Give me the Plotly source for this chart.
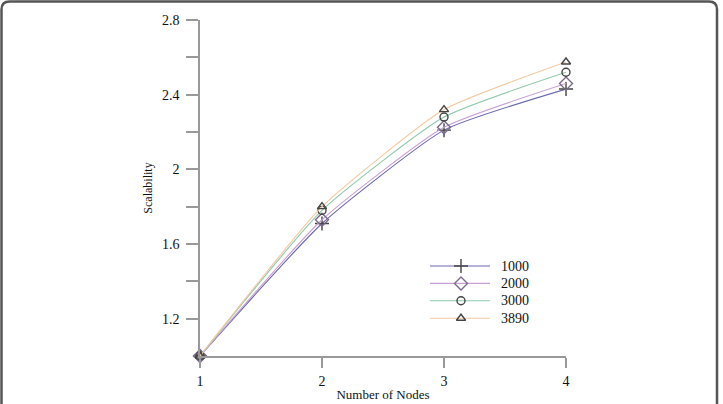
import plotly.graph_objects as go

nodes = [1, 2, 3, 4]
s1000 = [1.0, 1.71, 2.21, 2.43]
s2000 = [1.0, 1.73, 2.225, 2.46]
s3000 = [1.0, 1.78, 2.28, 2.52]
s3890 = [1.0, 1.80, 2.32, 2.575]
names = ["1000", "2000", "3000", "3890"]
line_colors = ["#6b68b0", "#c9a0d6", "#8fc9aa", "#f2c9a0"]
symbols = ["cross-thin-open", "diamond-open", "circle-open", "triangle-up-open"]
marker_colors = ["#444444", "#7a6a88", "#444444", "#444444"]
marker_sizes = [10, 10, 8, 8]
series = [s1000, s2000, s3000, s3890]

ytickvals = [1.2, 1.6, 2.0, 2.4, 2.8]
yticktext = ["1.2", "1.6", "2", "2.4", "2.8"]
yminor = [1.4, 1.8, 2.2, 2.6]

FONT = "Liberation Serif"
TXT = "#111111"

L, R, T, B = 200, 157, 20, 48
W, H = 723, 404
pw, ph = W - L - R, H - T - B

# legend layout (pixel positions within the figure)
LEG_X0, LEG_X1, LEG_MX, LEG_TX = 430, 490, 461, 499
LEG_Y0, LEG_DY = 266, 17.4

fig = go.Figure()
for i, (nm, ys, lc, sym, mc, ms) in enumerate(zip(names, series, line_colors, symbols, marker_colors, marker_sizes)):
    fig.add_trace(go.Scatter(
        x=nodes, y=ys, name=nm, mode="lines+markers", showlegend=False,
        line=dict(color=lc, width=1.1, shape="spline", smoothing=0.5),
        marker=dict(symbol=sym, size=ms, color=mc, line=dict(color=mc, width=1.4)),
        cliponaxis=False,
    ))
    ry_ = LEG_Y0 + i * LEG_DY
    fig.add_trace(go.Scatter(
        x=[LEG_X0, LEG_X1], y=[ry_, ry_], mode="lines", xaxis="x2", yaxis="y2",
        showlegend=False, hoverinfo="skip", line=dict(color=lc, width=1.1)))
    fig.add_trace(go.Scatter(
        x=[LEG_MX], y=[ry_], mode="markers", xaxis="x2", yaxis="y2",
        showlegend=False, hoverinfo="skip",
        marker=dict(symbol=sym, size=ms, color=mc, line=dict(color=mc, width=1.4))))
    fig.add_annotation(x=LEG_TX, y=ry_, xref="x2", yref="y2", text=nm, showarrow=False,
                       xanchor="left", yanchor="middle",
                       font=dict(family=FONT, size=14, color=TXT))

def px(x):
    return (x - L) / pw

def py(y):
    return (H - B - y) / ph

rx, ry = 8 / pw, 8 / ph
x0, x1 = px(1.5), px(717)
yt, yb = py(1.5), py(420)
path = (f"M {x0},{yb} L {x0},{yt - ry} Q {x0},{yt} {x0 + rx},{yt} "
        f"L {x1 - rx},{yt} Q {x1},{yt} {x1},{yt - ry} L {x1},{yb}")

fig.update_layout(
    width=W, height=H,
    margin=dict(l=L, r=R, t=T, b=B, autoexpand=False),
    paper_bgcolor="white", plot_bgcolor="white",
    font=dict(family=FONT, color=TXT),
    showlegend=False,
    shapes=[dict(type="path", xref="paper", yref="paper", path=path,
                 line=dict(color="#555555", width=2.5), layer="above")],
    xaxis=dict(range=[1, 4], tickvals=nodes, ticktext=[str(n) for n in nodes],
               automargin=False,
               showgrid=False, zeroline=False, showline=True, linecolor="#999999", linewidth=1.5,
               ticks="outside", ticklen=10, tickcolor="#999999", tickwidth=1.5,
               ticklabelstandoff=1,
               tickfont=dict(family=FONT, size=14, color=TXT),
               title=dict(text="Number of Nodes", font=dict(family=FONT, size=13, color=TXT), standoff=2)),
    yaxis=dict(range=[1.0, 2.8], tickvals=ytickvals, ticktext=yticktext,
               automargin=False,
               showgrid=False, zeroline=False, showline=True, linecolor="#999999", linewidth=1.5,
               ticks="outside", ticklen=12, tickcolor="#999999", tickwidth=1.5,
               ticklabelstandoff=4,
               minor=dict(tickvals=yminor, ticks="outside", ticklen=12, tickcolor="#999999", tickwidth=1.5, showgrid=False),
               tickfont=dict(family=FONT, size=14, color=TXT),
               title=dict(text="Scalability", font=dict(family=FONT, size=12, color=TXT), standoff=7)),
    xaxis2=dict(overlaying="x", range=[L, W - R], visible=False, fixedrange=True),
    yaxis2=dict(overlaying="y", range=[H - B, T], visible=False, fixedrange=True),
)

fig.write_html("out.html")
